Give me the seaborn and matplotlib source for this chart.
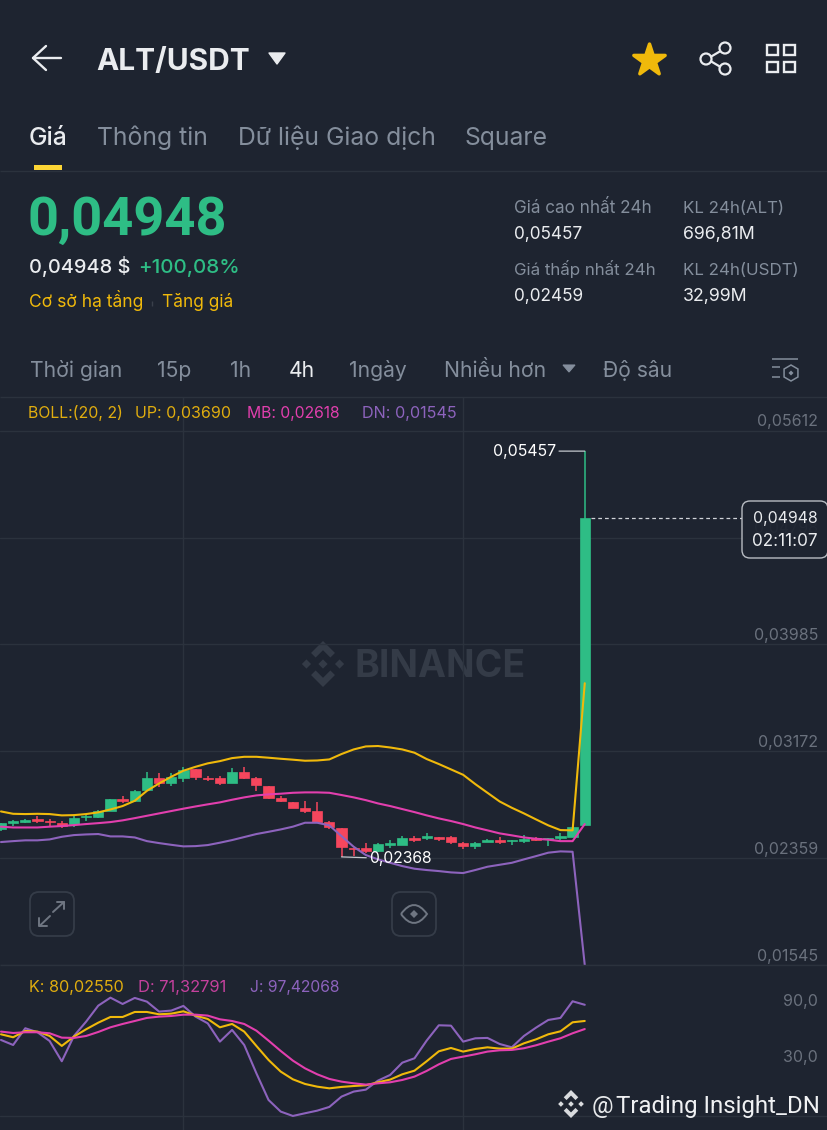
import numpy as np
import pandas as pd
import matplotlib
matplotlib.use('Agg')
import matplotlib.pyplot as plt
import seaborn as sns
from matplotlib.patches import FancyBboxPatch, PathPatch, Polygon, RegularPolygon, Circle
from matplotlib.path import Path

# 4h candles
candle_open = [0.02577, 0.02628, 0.02631, 0.02653, 0.02641, 0.02623, 0.02615, 0.02669, 0.02669, 0.02719,
               0.02808, 0.02793, 0.02877, 0.02970, 0.02932, 0.02970, 0.03036, 0.02970, 0.02968, 0.02932,
               0.03011, 0.02965, 0.02907, 0.02813, 0.02788, 0.02737, 0.02714, 0.02636, 0.02590, 0.02438,
               0.02433, 0.02415, 0.02458, 0.02460, 0.02514, 0.02514, 0.02516, 0.02516, 0.02473, 0.02453,
               0.02483, 0.02496, 0.02486, 0.02491, 0.02509, 0.02504, 0.02514, 0.02521, 0.02610]
candle_close = [0.02623, 0.02638, 0.02648, 0.02638, 0.02631, 0.02605, 0.02661, 0.02679, 0.02719, 0.02806,
                0.02790, 0.02871, 0.02970, 0.02932, 0.02973, 0.03029, 0.02973, 0.02958, 0.02932, 0.03011,
                0.02965, 0.02915, 0.02813, 0.02790, 0.02742, 0.02717, 0.02636, 0.02592, 0.02443, 0.02425,
                0.02415, 0.02463, 0.02476, 0.02514, 0.02496, 0.02526, 0.02506, 0.02478, 0.02450, 0.02473,
                0.02494, 0.02481, 0.02494, 0.02506, 0.02496, 0.02514, 0.02526, 0.02598, 0.04948]
candle_high = [0.02628, 0.02648, 0.02653, 0.02679, 0.02653, 0.02641, 0.02679, 0.02694, 0.02724, 0.02808,
               0.02831, 0.02877, 0.03011, 0.03004, 0.03009, 0.03049, 0.03036, 0.02986, 0.02986, 0.03041,
               0.03049, 0.02973, 0.02907, 0.02831, 0.02788, 0.02795, 0.02788, 0.02641, 0.02590, 0.02438,
               0.02471, 0.02471, 0.02496, 0.02526, 0.02529, 0.02547, 0.02521, 0.02529, 0.02483, 0.02483,
               0.02501, 0.02521, 0.02496, 0.02534, 0.02521, 0.02514, 0.02552, 0.02603, 0.05457]
candle_low = [0.02567, 0.02603, 0.02623, 0.02623, 0.02603, 0.02585, 0.02592, 0.02641, 0.02666, 0.02717,
              0.02775, 0.02783, 0.02871, 0.02902, 0.02907, 0.02940, 0.02953, 0.02948, 0.02917, 0.02927,
              0.02963, 0.02871, 0.02806, 0.02783, 0.02740, 0.02704, 0.02633, 0.02577, 0.02368, 0.02377,
              0.02395, 0.02407, 0.02438, 0.02455, 0.02481, 0.02496, 0.02488, 0.02463, 0.02425, 0.02425,
              0.02481, 0.02463, 0.02458, 0.02476, 0.02488, 0.02453, 0.02496, 0.02519, 0.02610]

boll_up = [0.02714, 0.02696, 0.02694, 0.02696, 0.02694, 0.02684, 0.02686, 0.02694, 0.02707, 0.02729,
           0.02755, 0.02795, 0.02871, 0.02927, 0.02978, 0.03024, 0.03054, 0.03080, 0.03097, 0.03120,
           0.03130, 0.03130, 0.03123, 0.03115, 0.03108, 0.03100, 0.03102, 0.03110, 0.03151, 0.03186,
           0.03209, 0.03212, 0.03201, 0.03186, 0.03161, 0.03113, 0.03075, 0.03034, 0.02993, 0.02922,
           0.02856, 0.02790, 0.02742, 0.02699, 0.02653, 0.02608, 0.02572, 0.02570, 0.03690]
boll_mb = [0.02598, 0.02592, 0.02592, 0.02592, 0.02598, 0.02603, 0.02610, 0.02618, 0.02625, 0.02633,
           0.02646, 0.02663, 0.02681, 0.02699, 0.02717, 0.02735, 0.02752, 0.02768, 0.02783, 0.02803,
           0.02821, 0.02836, 0.02844, 0.02849, 0.02856, 0.02859, 0.02859, 0.02856, 0.02839, 0.02821,
           0.02800, 0.02775, 0.02755, 0.02732, 0.02709, 0.02684, 0.02661, 0.02641, 0.02618, 0.02592,
           0.02570, 0.02547, 0.02532, 0.02516, 0.02506, 0.02499, 0.02488, 0.02488, 0.02618]
boll_dn = [0.02481, 0.02488, 0.02494, 0.02494, 0.02501, 0.02521, 0.02534, 0.02539, 0.02542, 0.02524,
           0.02524, 0.02516, 0.02488, 0.02473, 0.02460, 0.02448, 0.02450, 0.02458, 0.02476, 0.02496,
           0.02519, 0.02542, 0.02559, 0.02577, 0.02598, 0.02628, 0.02628, 0.02608, 0.02526, 0.02445,
           0.02382, 0.02349, 0.02323, 0.02298, 0.02278, 0.02268, 0.02260, 0.02250, 0.02245, 0.02268,
           0.02293, 0.02308, 0.02323, 0.02349, 0.02374, 0.02400, 0.02410, 0.02407, 0.01545]

kdj_k = [65.7, 62.5, 69.3, 68.6, 63.9, 53.2, 63.2, 71.1, 78.2, 84.3, 84.3, 89.7, 89.7, 87.2, 87.9, 90.4, 85.8,
         82.2, 73.2, 76.8, 68.6, 53.2, 38.1, 25.6, 17.3, 12.3, 9.4, 7.6, 9.1, 10.1, 10.9, 14.1, 17.0, 22.7,
         26.6, 36.7, 47.4, 51.0, 47.1, 49.9, 51.7, 50.3, 50.3, 56.0, 60.3, 65.7, 68.9, 78.6, 80.03]
kdj_d = [68.6, 67.1, 67.9, 67.9, 66.8, 62.1, 61.8, 63.9, 68.2, 73.2, 76.8, 80.0, 83.3, 84.7, 85.4, 86.8, 86.8,
         85.8, 81.8, 80.0, 76.8, 69.6, 58.9, 47.8, 37.4, 29.1, 22.7, 17.7, 14.8, 13.0, 11.6, 13.0, 14.1, 16.6,
         20.2, 26.3, 33.4, 39.2, 41.7, 44.2, 47.1, 48.5, 48.9, 50.7, 53.9, 57.8, 61.4, 66.8, 71.33]
kdj_j = [59.6, 54.2, 72.2, 67.9, 58.5, 36.7, 63.9, 79.3, 96.5, 105.1, 98.3, 104.8, 100.8, 90.1, 91.2, 96.2, 84.7,
         77.5, 57.8, 70.4, 54.2, 23.8, -4.9, -17.4, -22.1, -19.2, -16.4, -12.4, -1.3, 4.1, 6.2, 15.9, 22.0, 35.2,
         39.9, 58.9, 75.4, 75.0, 57.8, 61.4, 61.8, 55.3, 51.7, 63.9, 72.9, 81.1, 83.3, 101.2, 97.42]

price_ticks = [0.05612, 0.04798, 0.03985, 0.03172, 0.02359, 0.01545]
price_labels = ['0,05612', '0,04798', '0,03985', '0,03172', '0,02359', '0,01545']
kdj_ticks = [90.0, 30.0]
kdj_labels = ['90,0', '30,0']

BG = '#1e2430'
GRID = '#2b323d'
GREEN = '#2ebd85'
RED = '#f6465d'
YELLOW = '#f0b90b'
PINK = '#e23fae'
PURPLE = '#8d63bd'
GRAY = '#848e9c'
TICK = '#6a717d'
WHITE = '#eaecef'

sns.set_theme(style='dark', rc={'axes.facecolor': BG, 'figure.facecolor': BG, 'savefig.facecolor': BG})
plt.rcParams['font.family'] = ['Inter', 'Noto Sans', 'DejaVu Sans']

df = pd.DataFrame({'idx': np.arange(len(candle_open)), 'open': candle_open, 'close': candle_close,
                   'high': candle_high, 'low': candle_low, 'up': boll_up, 'mb': boll_mb, 'dn': boll_dn,
                   'k': kdj_k, 'd': kdj_d, 'j': kdj_j})
df['color'] = np.where(df['close'] >= df['open'], GREEN, RED)

W, H = 828, 1130
fig = plt.figure(figsize=(W / 100, H / 100), dpi=100)


def pixel_axes(top, bottom, z):
    return fig.add_axes([0, (H - bottom) / H, 1, (bottom - top) / H], zorder=z)


def binance_logo(ax, cx, cy, r, color, z=1):
    shapes = [[(0, -1), (.52, -.48), (.32, -.28), (0, -.6), (-.32, -.28), (-.52, -.48)],
              [(0, 1), (.52, .48), (.32, .28), (0, .6), (-.32, .28), (-.52, .48)],
              [(0, -.2), (.2, 0), (0, .2), (-.2, 0)],
              [(-.72, -.2), (-.52, 0), (-.72, .2), (-.92, 0)],
              [(.72, -.2), (.92, 0), (.72, .2), (.52, 0)]]
    for s in shapes:
        ax.add_patch(Polygon([(cx + x * r, cy + y * r) for x, y in s], closed=True, fc=color, ec='none', zorder=z))


# background layer, sits under the chart
bg = pixel_axes(0, H, 0)
bg.set_xlim(0, W)
bg.set_ylim(H, 0)
bg.set_axis_off()
binance_logo(bg, 323, 664, 23, '#343b47')
bg.text(355, 677, 'BINANCE', color='#343b47', fontsize=27, fontweight='bold', va='baseline')

# price pane
ax = pixel_axes(397, 965, 1)
ax.patch.set_alpha(0)
ax.vlines(df['idx'], df['low'], df['high'], colors=df['color'], lw=1.1, zorder=2)
ax.bar(df['idx'], (df['close'] - df['open']).abs(), bottom=df[['open', 'close']].min(axis=1),
       width=0.84, color=df['color'], edgecolor=df['color'], linewidth=0.5, zorder=3)
sns.lineplot(data=df, x='idx', y='up', color=YELLOW, lw=1.5, estimator=None, ax=ax, zorder=4)
sns.lineplot(data=df, x='idx', y='mb', color=PINK, lw=1.5, estimator=None, ax=ax, zorder=4)
sns.lineplot(data=df, x='idx', y='dn', color=PURPLE, lw=1.5, estimator=None, ax=ax, zorder=4)
ax.set_xlim(-0.08, 68.0)
ax.set_ylim(0.01545, 0.05869)
ax.set_xticks([15, 38])
ax.set_yticks(price_ticks)
ax.grid(True, color=GRID, lw=1)
ax.tick_params(length=0, labelleft=False, labelbottom=False)
ax.set_xlabel('')
ax.set_ylabel('')
sns.despine(ax=ax, left=True, bottom=True)
for v, lab in zip(price_ticks, price_labels):
    ax.annotate(lab, xy=(818 / W, v), xycoords=ax.get_yaxis_transform(), xytext=(0, 9),
                textcoords='offset pixels', ha='right', va='center', color=TICK, fontsize=11.5)

# high / low markers and last price line
ax.annotate('0,05457', xy=(48, max(candle_high)), xytext=(-29, 0), textcoords='offset pixels', color='white',
            fontsize=11.4, ha='right', va='center', zorder=6,
            arrowprops=dict(arrowstyle='-', color='#c4c8ce', lw=0.9, shrinkA=0, shrinkB=0))
ax.annotate('0,02368', xy=(28, min(candle_low)), xytext=(28, -2), textcoords='offset pixels', color='white',
            fontsize=11.3, ha='left', va='center', zorder=6,
            arrowprops=dict(arrowstyle='-', color='#c4c8ce', lw=0.9, shrinkA=0, shrinkB=0))
ax.hlines(candle_close[-1], 48.5, 60.9, colors='#d0d3d8', lw=0.9, linestyles=(0, (3, 2.4)), zorder=5)

# KDJ pane
ax2 = pixel_axes(965, H, 1)
ax2.patch.set_alpha(0)
sns.lineplot(data=df, x='idx', y='j', color=PURPLE, lw=1.5, estimator=None, ax=ax2, zorder=3)
sns.lineplot(data=df, x='idx', y='k', color=YELLOW, lw=1.5, estimator=None, ax=ax2, zorder=4)
sns.lineplot(data=df, x='idx', y='d', color=PINK, lw=1.5, estimator=None, ax=ax2, zorder=4)
ax2.set_xlim(-0.08, 68.0)
ax2.set_ylim(-37.2, 140.2)
ax2.set_xticks([15, 38])
ax2.set_yticks([-22.1])
ax2.grid(True, color=GRID, lw=1)
ax2.tick_params(length=0, labelleft=False, labelbottom=False)
ax2.set_xlabel('')
ax2.set_ylabel('')
sns.despine(ax=ax2, left=True, bottom=True)
for v, lab in zip(kdj_ticks, kdj_labels):
    ax2.annotate(lab, xy=(818 / W, v), xycoords=ax2.get_yaxis_transform(), xytext=(0, 10),
                 textcoords='offset pixels', ha='right', va='center', color=TICK, fontsize=11.5)

# app chrome, in pixel coordinates
ui = pixel_axes(0, H, 2)
ui.set_xlim(0, W)
ui.set_ylim(H, 0)
ui.set_axis_off()
ui.patch.set_alpha(0)


def txt(x, y, s, color=GRAY, size=11.5, **kw):
    kw.setdefault('va', 'baseline')
    ui.text(x, y, s, color=color, fontsize=size, **kw)


# header
ui.plot([33, 61], [58, 58], color=WHITE, lw=1.7)
ui.plot([46, 33, 46], [46, 58, 70], color=WHITE, lw=1.7)
txt(96, 70, 'ALT/USDT', WHITE, 21.5, fontweight='bold')
ui.add_patch(Polygon([(269, 53), (285, 53), (277, 64)], closed=True, fc=WHITE, ec=WHITE, lw=1, joinstyle='round'))
ui.scatter([649], [60], marker='*', s=560, color=YELLOW, edgecolors=YELLOW, linewidths=2.5)
ui.plot([724, 707, 724], [49, 59, 69], color=WHITE, lw=1.6)
for cx, cy in [(725, 48), (706, 59), (725, 69)]:
    ui.add_patch(Circle((cx, cy), 5.5, fc=BG, ec=WHITE, lw=1.6, zorder=3))
for x0 in (767, 784):
    for y0 in (45, 62):
        ui.add_patch(FancyBboxPatch((x0, y0), 11, 10, boxstyle='square,pad=0', fc='none', ec=WHITE, lw=1.7))

# tabs
txt(29, 145, 'Giá', WHITE, 17.8, fontweight='medium')
txt(97, 145, 'Thông tin', GRAY, 17.8)
txt(238, 145, 'Dữ liệu Giao dịch', GRAY, 17.8)
txt(465, 145, 'Square', GRAY, 17.8)
ui.add_patch(FancyBboxPatch((34, 165), 28, 5, boxstyle='square,pad=0', fc='#fcd535', ec='none'))
ui.hlines(171, 0, W, color=GRID, lw=1)

# price summary
ui.text(28, 235, '0,04948', color=GREEN, fontsize=39, fontweight='bold', family='Roboto', va='baseline')
txt(29, 273, '0,04948 $', WHITE, 14.4, fontweight='medium')
txt(138, 273, '+100,08%', GREEN, 14.8, fontweight='medium')
txt(29, 307, 'Cơ sở hạ tầng', YELLOW, 12.6)
ui.vlines(152, 301, 306, color='#3a404b', lw=1)
txt(162, 307, 'Tăng giá', YELLOW, 12.4)
txt(514, 213, 'Giá cao nhất 24h', GRAY, 12.3)
txt(514, 239, '0,05457', WHITE, 12.4)
txt(683, 213, 'KL 24h(ALT)', GRAY, 12.2)
txt(683, 239, '696,81M', WHITE, 12.8)
txt(514, 275, 'Giá thấp nhất 24h', GRAY, 12.2)
txt(514, 301, '0,02459', WHITE, 12.4)
txt(683, 275, 'KL 24h(USDT)', GRAY, 12.2)
txt(683, 301, '32,99M', WHITE, 12.8)

# interval row
for x, s, c in [(30, 'Thời gian', GRAY), (157, '15p', GRAY), (230, '1h', GRAY), (289, '4h', WHITE),
                (349, '1ngày', GRAY), (444, 'Nhiều hơn', GRAY), (603, 'Độ sâu', GRAY)]:
    txt(x, 377, s, c, 15.2)
ui.add_patch(Polygon([(563, 365), (575, 365), (569, 372)], closed=True, fc=GRAY, ec=GRAY, lw=0.8))
ui.hlines(359, 772, 798, color=GRAY, lw=1.1)
ui.hlines([367, 377], 772, 780, color=GRAY, lw=1.1)
ui.add_patch(RegularPolygon((791, 373), 6, radius=8, fc='none', ec=GRAY, lw=1.1))
ui.add_patch(RegularPolygon((791, 373), 4, radius=2.5, fc=GRAY, ec='none'))
ui.hlines(397, 0, W, color=GRID, lw=1)

# indicator legends
txt(28, 418, 'BOLL:(20, 2)', '#e0ad0f', 11.4)
txt(135, 418, 'UP: 0,03690', '#e0ad0f', 11.5)
txt(247, 418, 'MB: 0,02618', PINK, 11.3)
txt(362, 418, 'DN: 0,01545', PURPLE, 11.7)
ui.hlines(965, 0, W, color=GRID, lw=1)
txt(29, 992, 'K: 80,02550', '#e0ad0f', 11.7)
txt(138, 992, 'D: 71,32791', '#c4419d', 11.9)
txt(250, 992, 'J: 97,42068', PURPLE, 11.3)

# last price box
ui.add_patch(FancyBboxPatch((746, 505), 78, 49, boxstyle='round,pad=4,rounding_size=8', fc=BG, ec='#c4c8ce', lw=1,
                            alpha=0.93, zorder=4))
ui.text(818, 518, '0,04948', color=WHITE, fontsize=11.4, ha='right', va='center', zorder=5)
ui.text(818, 541, '02:11:07', color=WHITE, fontsize=12.3, ha='right', va='center', zorder=5)

# floating buttons
for x0 in (30, 392):
    ui.add_patch(FancyBboxPatch((x0, 892), 44, 44, boxstyle='round,pad=0,rounding_size=9', fc='none', ec='#353c48', lw=1.3))
ui.plot([50, 39.5], [916, 926], color='#6f7682', lw=1.4)
ui.plot([39.5, 39.5, 47], [918, 926, 926], color='#6f7682', lw=1.4)
ui.plot([53, 64], [912, 902], color='#6f7682', lw=1.4)
ui.plot([57, 64, 64], [902, 902, 909], color='#6f7682', lw=1.4)
ui.add_patch(PathPatch(Path([(401, 914), (414, 896), (427, 914), (414, 932), (401, 914)],
                            [Path.MOVETO, Path.CURVE3, Path.LINETO, Path.CURVE3, Path.LINETO]),
                       fc='none', ec='#6f7682', lw=1.4))
ui.add_patch(RegularPolygon((414, 914), 4, radius=4, fc='#6f7682', ec='none'))

# repost watermark
binance_logo(ui, 571, 1104, 14, '#d9dbde', z=6)
ui.text(592, 1113, '@', color='#e6e8ea', fontsize=17.3, family='Roboto', va='baseline', zorder=6)
ui.text(616, 1113, 'Trading Insight_DN', color='#f0f1f3', fontsize=17.3, family='Roboto', va='baseline', zorder=6)

plt.savefig('out.png', dpi=100)
